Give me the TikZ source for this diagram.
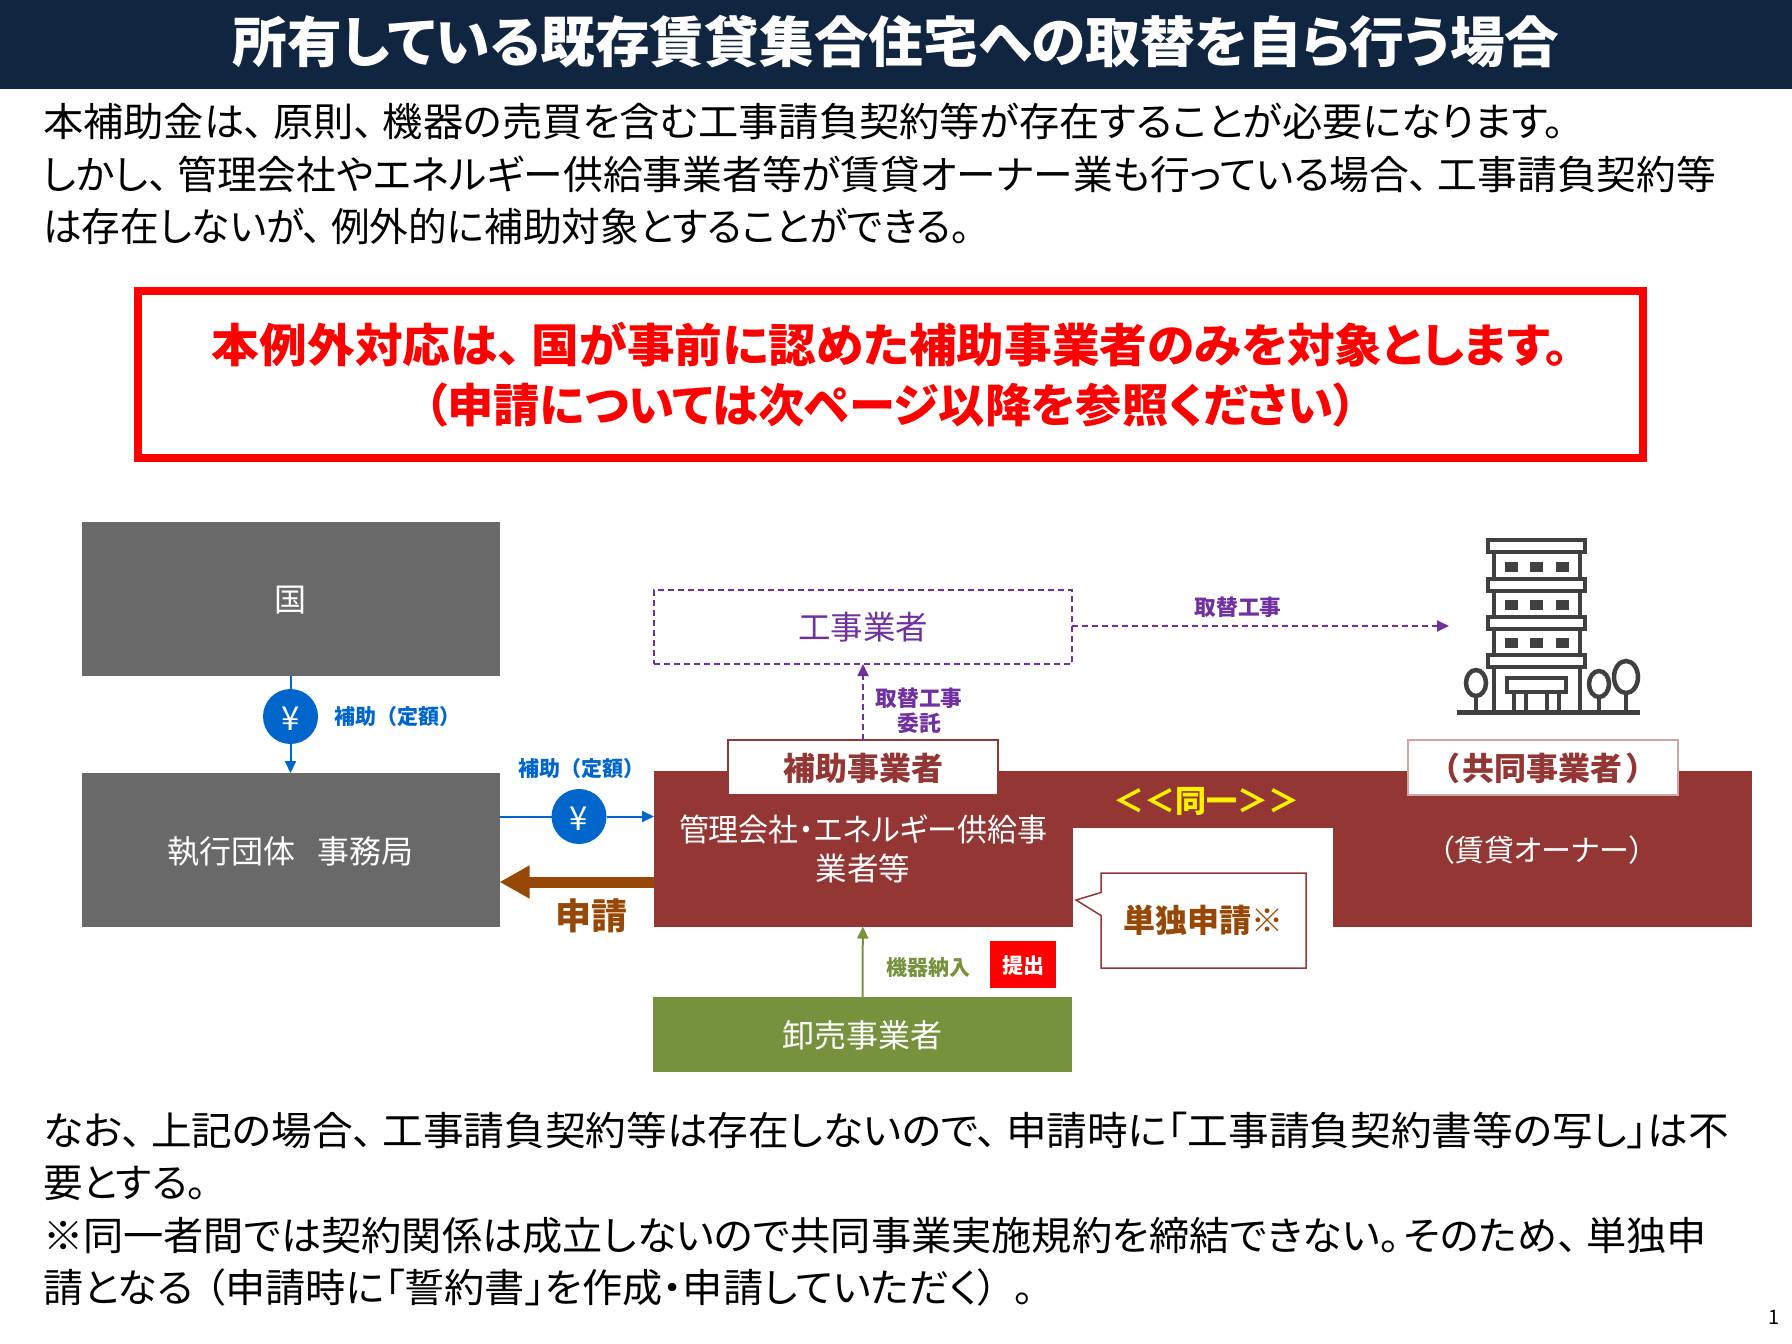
\documentclass[tikz,border=0pt]{standalone}
\usepackage{fontspec}
\setmainfont{Noto Sans CJK JP}[CharacterWidth=AlternateProportional]
\newfontfamily\plaincjk{Noto Sans CJK JP}
\usetikzlibrary{positioning,arrows.meta,shapes.callouts}

\definecolor{navy}{HTML}{10253F}
\definecolor{slab}{HTML}{696969}
\definecolor{wine}{HTML}{943634}
\definecolor{moss}{HTML}{76923C}
\definecolor{plum}{HTML}{7030A0}
\definecolor{rust}{HTML}{984806}
\definecolor{coinblue}{HTML}{0066CC}
\definecolor{iron}{HTML}{404040}
\newcommand{\fsz}[1]{\fontsize{#1}{#1}\selectfont}
\newcommand{\tline}[2]{\resizebox{#1pt}{\height}{#2}}
\newcommand{\tn}{、\hspace{.22em}}
\newcommand{\nudge}[2]{\raisebox{#1pt}[\height][\depth]{#2}}

\begin{document}
\begin{tikzpicture}[
                x=1pt,y=-1pt,
                every node/.append style={inner sep=0pt,outer sep=0pt},
                panel/.style={fill=#1,text=white,font=\fsz{32},align=center},
                tag/.style={draw=#1,fill=white,line width=1.5pt,text=wine,font=\bfseries\fsz{32},minimum width=270pt,minimum height=55pt},
                coin/.style={circle,fill=coinblue,text=white,minimum size=55pt,font=\fsz{33}},
                small/.style={text=#1,font=\bfseries\fsz{21.7},align=center},
                body/.style={anchor=west,align=left,font={\fontsize{39.5}{52.4}\selectfont}},
                pay/.style={coinblue,line width=2pt},
                sub/.style={plum,line width=1.8pt,dash pattern=on 6pt off 4pt},
                tip/.style={-{Triangle[length=12pt,width=11pt]}}
            ]
                \useasboundingbox (0,0) rectangle (1792,1344);
                % header and text
                \node (title) [fill=navy,minimum width=1792pt,minimum height=89pt,text=white,font=\bfseries\fsz{54.7}] at (896,44.5) {\nudge{2.5}{所有している既存賃貸集合住宅への取替を自ら行う場合}};
                \node (intro) [body] at (43,174) {\tline{1521}{本補助金は\tn 原則\tn 機器の売買を含む工事請負契約等が存在することが必要になります。}\\
                \tline{1673}{しかし\tn 管理会社やエネルギー供給事業者等が賃貸オーナー業も行っている場合\tn 工事請負契約等}\\
                \tline{927}{は存在しないが\tn 例外的に補助対象とすることができる。}};
                \node (notice) [draw=red,line width=8pt,minimum width=1505pt,minimum height=167pt,text=red,align=center,font={\bfseries\fontsize{46}{60}\selectfont}] at (890.5,374.5) {\tline{1357}{本例外対応は\tn 国が事前に認めた補助事業者のみを対象とします。}\\
                \tline{932}{（申請については次ページ以降を参照ください）}};
                \node (outro) [body] at (43,1209) {\tline{1686}{なお\tn 上記の場合\tn 工事請負契約等は存在しないので\tn 申請時に「工事請負契約書等の写し」は不}\\
                要とする。\\
                \tline{1664}{※同一者間では契約関係は成立しないので共同事業実施規約を締結できない。\hspace{.1em}そのため\tn 単独申}\\
                \tline{991}{請となる\hspace{.3em}（申請時に「誓約書」を作成・申請していただく）\hspace{.4em}。}};
                \node (page) [font=\fsz{20}] at (1774,1317) {1};

                % left column
                \node (state) [panel=slab,minimum width=418pt,minimum height=154pt] at (290.5,599) {\nudge{-1}{国}};
                \node (office) [panel=slab,minimum width=418pt,minimum height=154pt,below=97pt of state] {\nudge{-2}{執行団体\hspace{23pt}事務局}};
                \node (coinA) [coin] at (290.5,716.5) {\nudge{-2}{¥}};
                \node (coinB) [coin] at (579,816.5) {\nudge{-2}{¥}};
                \node (payA) [small=coinblue,font=\bfseries\fsz{21},right=16pt of coinA] {\plaincjk 補助（定額）};
                \node (payB) [small=coinblue,font=\bfseries\fsz{21}] at (581,769) {\plaincjk 補助（定額）};

                % centre and right block
                \node (mgmt) [panel=wine,draw=wine,font=\fsz{31.5},minimum width=418pt,minimum height=155pt] at (863,849) {\tline{368}{管理会社・エネルギー供給事}\\[7pt]業者等};
                \node (owner) [panel=wine,draw=wine,font=\fsz{30},minimum width=418pt,minimum height=155pt] at (1542,848.5) {\nudge{-2}{（賃貸オーナー）}};
                \node (same) [panel=wine,draw=wine,text=yellow,font=\bfseries\fsz{31},minimum width=261pt,minimum height=56pt] at (1202.5,799) {\hspace*{7pt}\nudge{-2}{＜＜同一＞＞}};
                \node (grantee) [tag=wine] at (863,767.5) {\nudge{-1}{補助事業者}};
                \node (partner) [tag=wine!45] at (1543,767.5) {\nudge{-1}{（\hspace{4pt}共同事業者\hspace{4pt}）}};
                \node (builder) [draw=plum,sub,fill=white,text=plum,font=\fsz{32.5},minimum width=418pt,minimum height=74pt] at (863,627) {工事業者};
                \node (wholesale) [panel=moss,minimum width=419pt,minimum height=75pt] at (862.5,1034.5) {\nudge{-1}{卸売事業者}};
                \node (single) [rectangle callout,callout absolute pointer={(1076,900)},callout pointer width=23pt,draw=wine,fill=white,line width=1.5pt,text=rust,font=\bfseries\fsz{32},minimum width=205pt,minimum height=95pt] at (1203.5,920.5) {単独申請{\mdseries ※}};
                \node (submit) [fill=red,text=white,font=\bfseries\fsz{21},minimum width=66pt,minimum height=47pt] at (1023,964.5) {\nudge{-1}{提出}};
                \node (deliver) [small=moss,font=\bfseries\fsz{21}] at (928,968) {機器納入};
                \node (order) [small=plum] at (919,711) {取替工事\\[3.5pt]委託};
                \node (work) [small=plum] at (1238,607) {取替工事};
                \node (apply) [text=rust,font=\bfseries\fsz{36}] at (591,916) {申請};
                \coordinate (site) at (1449,626);
                \coordinate (claim) at (654,882);

                % connectors
                \draw[pay] (state) -- (coinA);
                \draw[pay,tip] (coinA) -- (office);
                \draw[pay] (office.east |- coinB) -- (coinB);
                \draw[pay,tip] (coinB) -- (mgmt.west |- coinB);
                \draw[rust,line width=11pt,-{Triangle[length=30pt,width=31pt]}] (mgmt.west |- claim) -- (office.east |- claim);
                \draw[sub,tip] (grantee) -- (builder);
                \draw[sub,tip] (builder.east |- site) -- (site);
                \draw[moss,line width=2pt,tip] (wholesale) -- (mgmt);

                % building
                \begin{scope}[iron,line width=4.5pt]
                    \foreach \h in {540,579,617,655}
                        \draw (1488,\h) rectangle (1585,\h+12);
                    \foreach \a/\b in {552/579,591/617,629/655,667/712} {
                        \draw (1494,\a) -- (1494,\b);
                        \draw (1580,\a) -- (1580,\b);
                    }
                    \foreach \h in {562,600,638} \foreach \w in {1505,1530,1556}
                        \fill (\w,\h) rectangle (\w+13,\h+10);
                    \draw (1507,678) rectangle (1566,692);
                    \foreach \w in {1514,1526,1547,1559} \draw[line width=3.5pt] (\w,692) -- (\w,712);
                    \fill (1457,710) rectangle (1640,715);
                    \foreach \w/\h/\rx/\ry in {1476/683/10/13,1599/684/10/13,1626/677/12/16} {
                        \draw (\w,\h) ellipse ({\rx} and {\ry});
                        \draw (\w,\h+\ry) -- (\w,712);
                    }
                \end{scope}
            \end{tikzpicture}
\end{document}
